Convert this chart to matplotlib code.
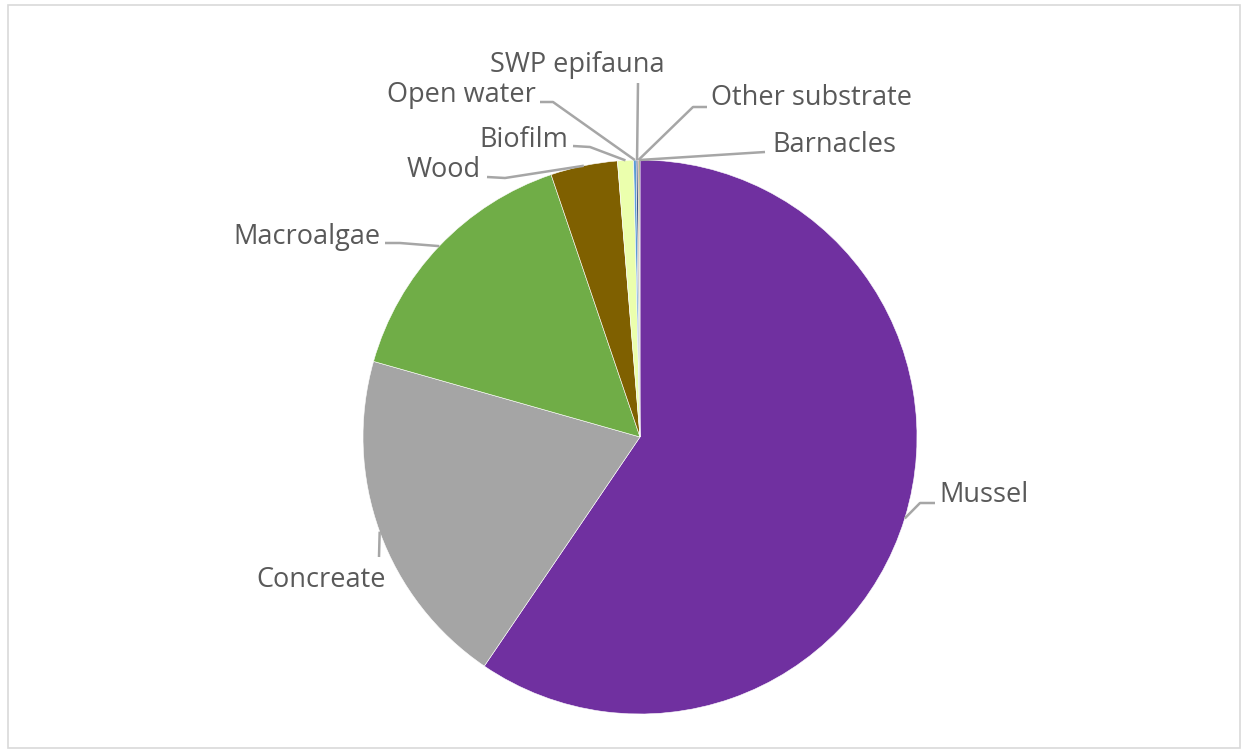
import numpy as np
import matplotlib
matplotlib.use("Agg")
import matplotlib.pyplot as plt
from matplotlib.patches import Rectangle

labels = ["Mussel", "Concreate", "Macroalgae", "Wood", "Biofilm",
          "Open water", "SWP epifauna", "Other substrate", "Barnacles"]
values = [59.5, 19.9, 15.4, 3.9, 0.93, 0.15, 0.1, 0.06, 0.06]
colors = ["#7030A0", "#A5A5A5", "#70AD47", "#7F6000", "#EBFFAD",
          "#5B9BD5", "#264478", "#9E480E", "#43682B"]

W, H = 1247, 753
CX, CY, R = 640, 437, 277


def px(x, y):
    # pixel position -> data coords (pie radius = 1)
    return (x - CX) / R, (CY - y) / R


plt.rcParams['font.family'] = ['Open Sans', 'DejaVu Sans']
fig = plt.figure(figsize=(W / 100, H / 100), dpi=100)
ax = fig.add_axes([0, 0, 1, 1])
ax.axis("off")

wedges, _ = ax.pie(values, colors=colors, startangle=90, counterclock=False,
                   radius=1, center=(0, 0),
                   wedgeprops=dict(edgecolor="white", linewidth=0.4))
ax.set_xlim(-CX / R, (W - CX) / R)
ax.set_ylim(-(H - CY) / R, CY / R)

# leader anchor on the wedge mid-angle
anchors = []
for w in wedges:
    mid = np.deg2rad((w.theta1 + w.theta2) / 2)
    anchors.append((np.cos(mid), np.sin(mid)))

# label layout: (text pixel pos, ha, elbow points in pixels)
layout = {
    "Mussel": ((939, 495), "left", [(920, 503), (935, 503)]),
    "Concreate": ((386, 580), "right", [(379, 557)]),
    "Macroalgae": ((381, 237), "right", [(400, 243), (385, 243)]),
    "Wood": ((481, 170), "right", [(505, 178), (487, 177)]),
    "Biofilm": ((568, 140), "right", [(590, 147), (573, 146)]),
    "Open water": ((536, 95), "right", [(553, 102), (540, 102)]),
    "SWP epifauna": ((577, 65), "center", [(638, 83)]),
    "Other substrate": ((711, 98), "left", [(693, 107), (707, 107)]),
    "Barnacles": ((772, 145), "left", [(765, 152)]),
}

for lab, anc in zip(labels, anchors):
    (tx, ty), ha, pts = layout[lab]
    xs = [anc[0]] + [px(*p)[0] for p in pts]
    ys = [anc[1]] + [px(*p)[1] for p in pts]
    ax.plot(xs, ys, color="#A6A6A6", lw=1.8, solid_capstyle="butt", zorder=1)
    x, y = px(tx, ty)
    ax.text(x, y, lab, ha=ha, va="center", fontsize=19.5, color="#595959")

fig.patches.append(Rectangle((8 / W, 5 / H), 1232 / W, 743 / H,
                             transform=fig.transFigure, fill=False,
                             edgecolor="#D9D9D9", lw=1.2))

fig.savefig("out.png", dpi=100)
